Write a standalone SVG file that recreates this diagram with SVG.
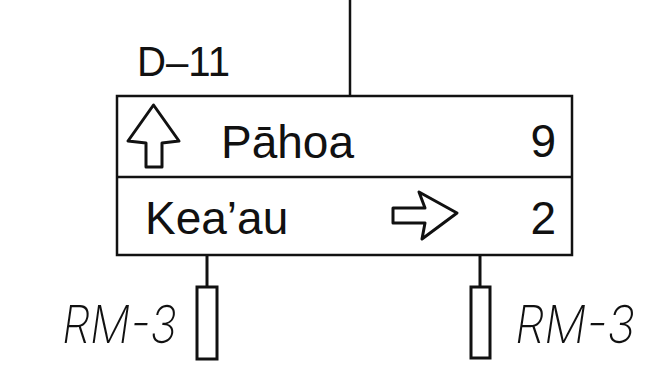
<svg xmlns="http://www.w3.org/2000/svg" width="658" height="372" viewBox="0 0 658 372">
<style>
.ln{stroke:#111;stroke-width:2.5;fill:none}
.post{stroke:#111;stroke-width:3;fill:#fff}
.t{font-family:"Liberation Sans",Arial,sans-serif;fill:#111}
.rm{font-family:Inter,"DejaVu Sans","Liberation Sans",sans-serif;font-weight:200;font-style:italic;font-size:52px;fill:#111}
.arr{stroke:#111;stroke-width:3;fill:#fff;stroke-linejoin:round}
</style>
<rect width="658" height="372" fill="#fff"/>
<g id="connectors">
<line class="ln" x1="350" y1="0" x2="350" y2="96"/>
<line class="ln" x1="207" y1="255" x2="207" y2="287" style="stroke-width:3"/>
<line class="ln" x1="480" y1="255" x2="480" y2="287" style="stroke-width:3"/>
</g>
<g id="label-d11">
<text class="t" x="137" y="76" font-size="42" textLength="93" lengthAdjust="spacingAndGlyphs">D–11</text>
</g>
<g id="sign">
<rect class="ln" x="117" y="96" width="455" height="159"/>
<line class="ln" x1="117" y1="177" x2="572" y2="177"/>
<path class="arr" d="M153.5,105 L179,141 L162,143 L162,167 L146,167 L146,143 L128,141 Z"/>
<text class="t" x="221" y="158" font-size="46">Pāhoa</text>
<text class="t" x="556" y="157" font-size="46" text-anchor="end">9</text>
<text class="t" x="145" y="234" font-size="46">Kea’au</text>
<path class="arr" d="M393,208 L425,208 L419,192 L457,213 L422,239 L425,223 L393,223 Z"/>
<text class="t" x="556" y="234" font-size="46" text-anchor="end">2</text>
</g>
<g id="post-left">
<rect class="post" x="197" y="287" width="20" height="72"/>
<text class="rm" x="62" y="343" textLength="115" lengthAdjust="spacingAndGlyphs">RM-3</text>
</g>
<g id="post-right">
<rect class="post" x="471" y="287" width="19" height="71"/>
<text class="rm" x="515" y="343" textLength="120" lengthAdjust="spacingAndGlyphs">RM-3</text>
</g>
</svg>
